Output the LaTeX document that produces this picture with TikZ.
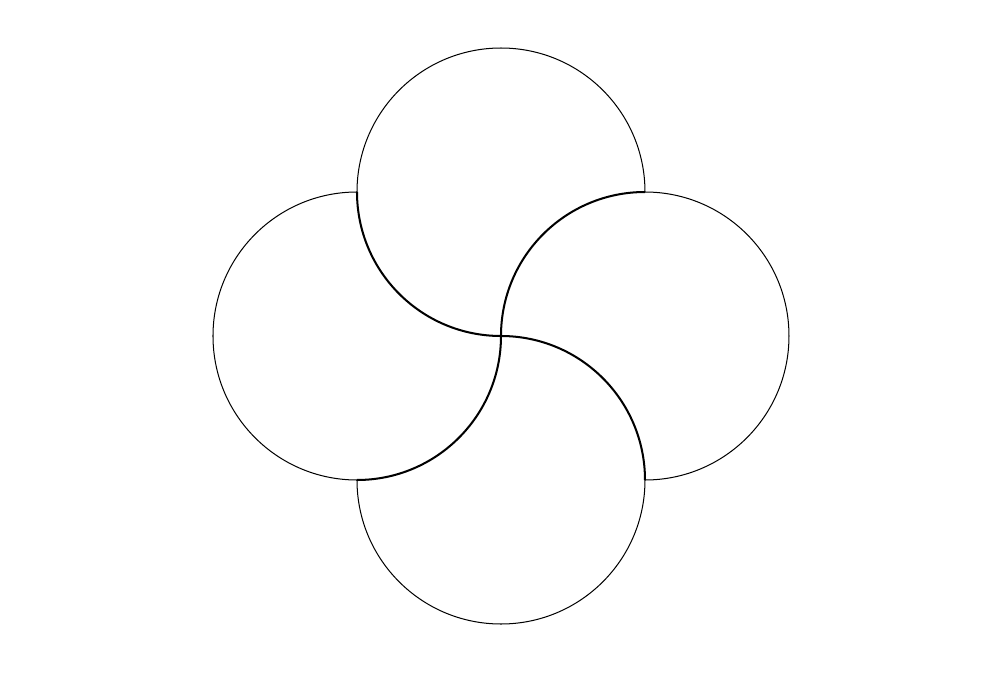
\documentclass[tikz,border=0pt]{standalone}
\begin{document}
\begin{tikzpicture}[outer/.style={line width=0.4pt}, inner/.style={line width=0.8pt}]
\useasboundingbox (-6.9583,-4.6667) rectangle (6.9583,4.6667);
\coordinate (ctop) at (0,2);
\coordinate (cright) at (2,0);
\coordinate (cbottom) at (0,-2);
\coordinate (cleft) at (-2,0);
% top circle
\draw[outer] (2,2) arc[start angle=0, end angle=180, radius=2];
\draw[inner] (-2,2) arc[start angle=180, end angle=270, radius=2];
% right circle
\draw[outer] (2,-2) arc[start angle=-90, end angle=90, radius=2];
\draw[inner] (2,2) arc[start angle=90, end angle=180, radius=2];
% bottom circle
\draw[outer] (-2,-2) arc[start angle=180, end angle=360, radius=2];
\draw[inner] (2,-2) arc[start angle=0, end angle=90, radius=2];
% left circle
\draw[outer] (-2,2) arc[start angle=90, end angle=270, radius=2];
\draw[inner] (-2,-2) arc[start angle=270, end angle=360, radius=2];
\end{tikzpicture}
\end{document}
